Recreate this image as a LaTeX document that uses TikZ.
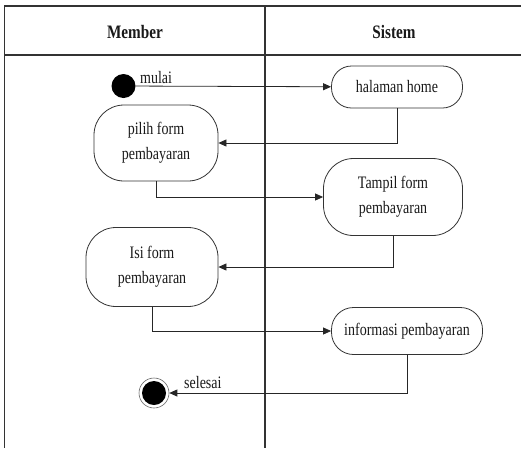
\documentclass[tikz,border=0pt]{standalone}
\usepackage{fontspec}
\setmainfont{Liberation Serif}[FakeStretch=0.8]
\usetikzlibrary{arrows.meta}
\begin{document}
\begin{tikzpicture}[x=1pt,y=-1pt,
  lane/.style={draw=black!80,line width=1.3pt},
  act/.style={draw=black!80,line width=0.8pt,rectangle,rounded corners=30pt,
    align=center,inner sep=0pt,font=\fontsize{17.5}{25}\selectfont,text=black!90},
  flow/.style={draw=black!85,line width=0.8pt,-{Triangle[length=8pt,width=7pt]}},
  lbl/.style={font=\fontsize{17.5}{25}\selectfont,text=black!90,inner sep=0pt},
  head/.style={font=\fontsize{19}{22}\selectfont\bfseries,text=black!90}]
\useasboundingbox (0,0) rectangle (521,448);
% swimlane frame
\draw[lane] (521,6) -- (4.5,6) -- (4.5,448);
\draw[lane] (4.5,55) -- (521,55);
\draw[lane] (265,6) -- (265,448);
\node[head] (hmember) at (135,32) {Member};
\node[head] (hsistem) at (394,32) {Sistem};
% activities
\node[circle,fill=black,inner sep=0pt,minimum size=24pt] (start) at (123.5,86) {};
\node[act,minimum width=131pt,minimum height=42pt,rounded corners=20pt] (home) at (397,87) {halaman home};
\node[act,minimum width=124pt,minimum height=76pt] (pilih) at (156,143) {pilih form\\pembayaran};
\node[act,minimum width=139pt,minimum height=77pt] (tampil) at (393,197) {Tampil form\\pembayaran};
\node[act,minimum width=132pt,minimum height=79pt] (isi) at (152,267) {Isi form\\pembayaran};
\node[act,minimum width=151pt,minimum height=47pt,rounded corners=22pt] (info) at (407,331) {informasi pembayaran};
\node[circle,draw=black!60,line width=0.6pt,minimum size=30pt,inner sep=0pt] (end) at (154,393) {};
\node[circle,fill=black,inner sep=0pt,minimum size=24pt] (endcore) at (end.center) {};
% labels
\node[lbl,anchor=base west] (lmulai) at (140,83) {mulai};
\node[lbl,anchor=base west] (lselesai) at (184,388) {selesai};
% flows
\draw[flow] (start) -- (home);
\draw[flow] (home.south) |- (pilih.east);
\draw[flow] (pilih.south) |- (tampil.west);
\draw[flow] (tampil.south) |- (isi.east);
\draw[flow] (isi.south) |- (info.west);
\draw[flow] (info.south) |- (end.east);
\end{tikzpicture}
\end{document}
